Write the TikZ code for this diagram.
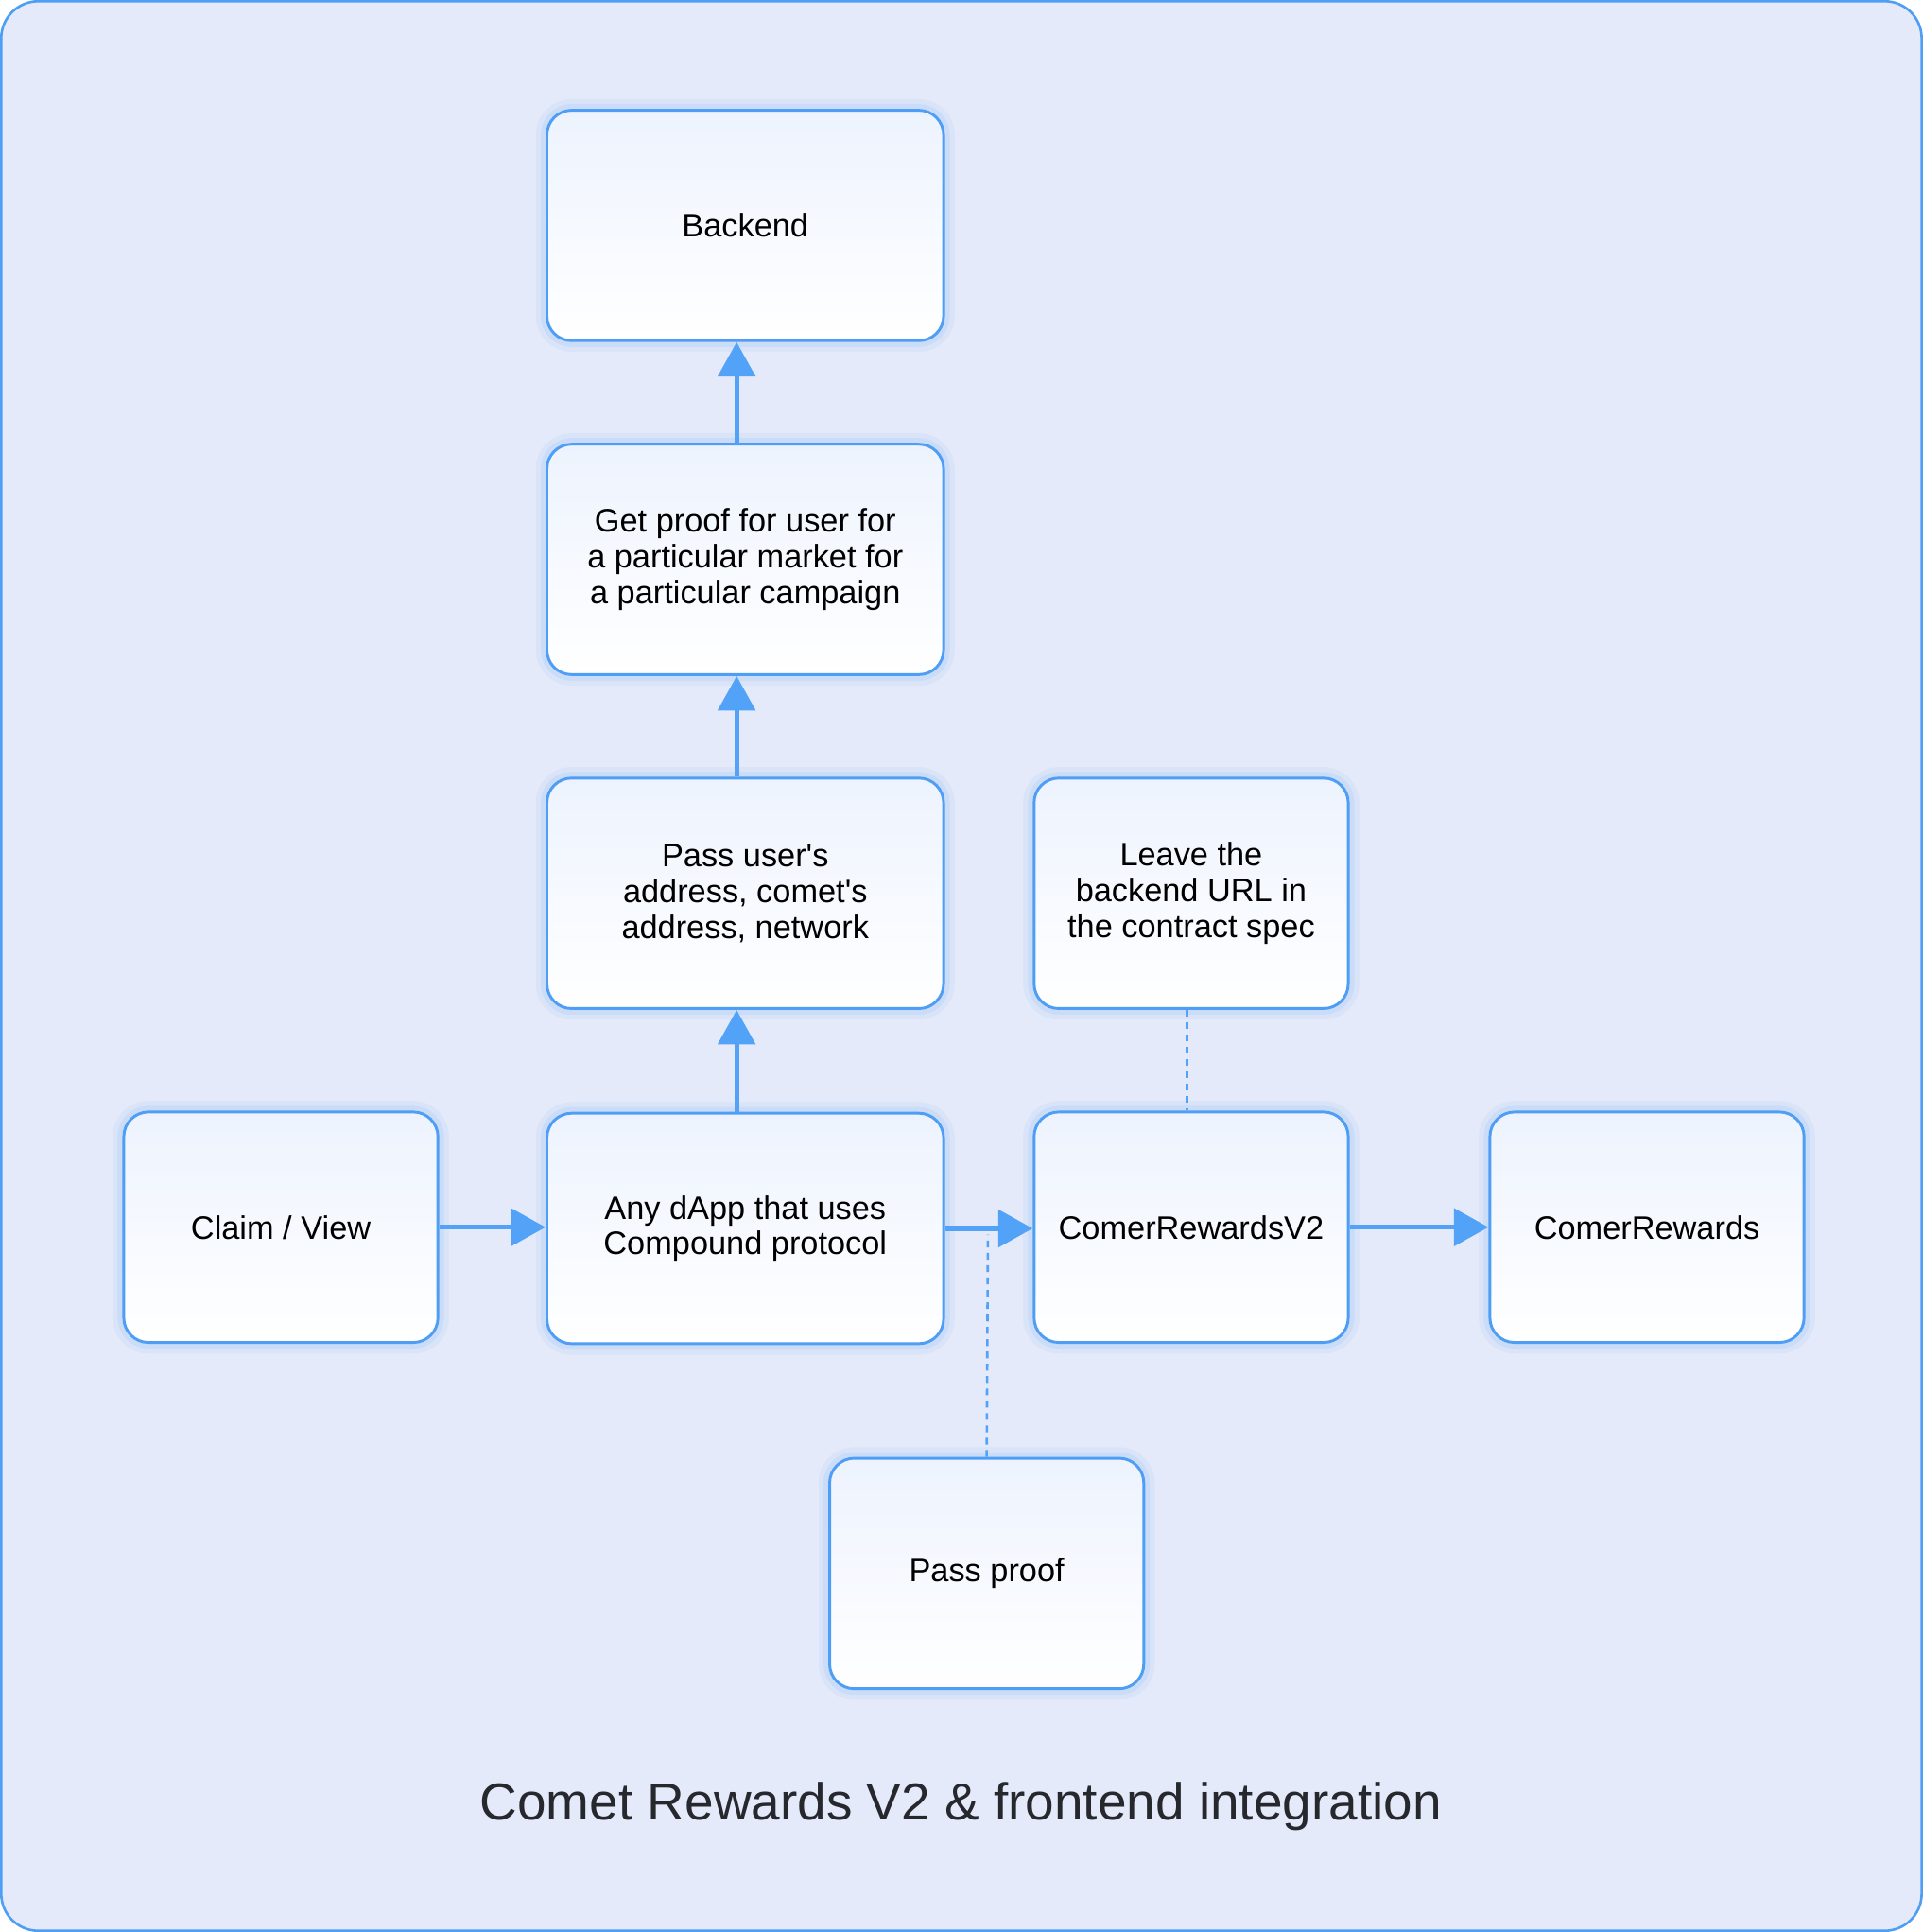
\documentclass[tikz,border=0pt]{standalone}
\usepackage{fontspec}
\setmainfont{Liberation Sans}
\usetikzlibrary{arrows.meta,calc}
\definecolor{rand}{HTML}{4F9EF5}
\definecolor{pfeilc}{HTML}{52A2F8}
\definecolor{grund}{HTML}{E4EAF9}
\definecolor{boxoben}{HTML}{EDF3FE}
\definecolor{glow}{HTML}{7FB4F5}
\definecolor{titelc}{HTML}{26282E}
\tikzset{
  box/.style={draw=rand,line width=0.45mm,rounded corners=4mm,top color=boxoben,bottom color=white,
    minimum width=64.4mm,minimum height=37.4mm,align=center,font=\fontsize{15}{16.5}\selectfont,
    preaction={draw=glow,line width=3.6mm,draw opacity=0.10},
    preaction={draw=glow,line width=2mm,draw opacity=0.16}},
  boxs/.style={box,minimum width=51mm},
  arr/.style={-{Triangle[length=5.6mm,width=6mm]},pfeilc,line width=0.8mm},
  dots/.style={pfeilc,line width=0.4mm,dash pattern=on 1.1mm off 0.9mm},
  titel/.style={text=titelc,font=\fontsize{24}{29}\selectfont},
}
\begin{document}
\begin{tikzpicture}[x=0.2mm,y=-0.2mm]
  \useasboundingbox (0,0) rectangle (1561,1568);
  \draw[rand,fill=grund,line width=0.4mm,rounded corners=6mm] (1,1) rectangle (1560,1567);
  \node[box] (backend) at (605,183) {Backend};
  \node[box] (proof) at (605,454) {Get proof for user for\\a particular market for\\a particular campaign};
  \node[box] (pass) at (605,725) {Pass user\textquotesingle s\\address, comet\textquotesingle s\\address, network};
  \node[boxs] (leave) at (967,725) {Leave the\\backend URL in\\the contract spec};
  \node[boxs] (claim) at (228,996) {Claim / View};
  \node[box] (dapp) at (605,997) {Any dApp that uses\\Compound protocol};
  \node[boxs] (v2) at (967,996) {ComerRewardsV2};
  \node[boxs] (rewards) at (1337,996) {ComerRewards};
  \node[boxs] (pproof) at (801,1277) {Pass proof};
  \node[titel] (title) at (780,1466) {Comet Rewards V2 \& frontend integration};
  \coordinate (abzw) at (802,1002);
  \draw[arr] ([xshift=-1.4mm]dapp.north) -- ([xshift=-1.4mm]pass.south);
  \draw[arr] ([xshift=-1.4mm]pass.north) -- ([xshift=-1.4mm]proof.south);
  \draw[arr] ([xshift=-1.4mm]proof.north) -- ([xshift=-1.4mm]backend.south);
  \draw[arr] (claim.east) -- (claim.east -| dapp.west);
  \draw[arr] (dapp.east) -- (dapp.east -| v2.west);
  \draw[arr] (v2.east) -- (rewards.west);
  \draw[dots] ([xshift=-0.7mm]leave.south) -- ([xshift=-0.7mm]v2.north);
  \draw[dots] (pproof.north) -- (abzw);
\end{tikzpicture}
\end{document}
